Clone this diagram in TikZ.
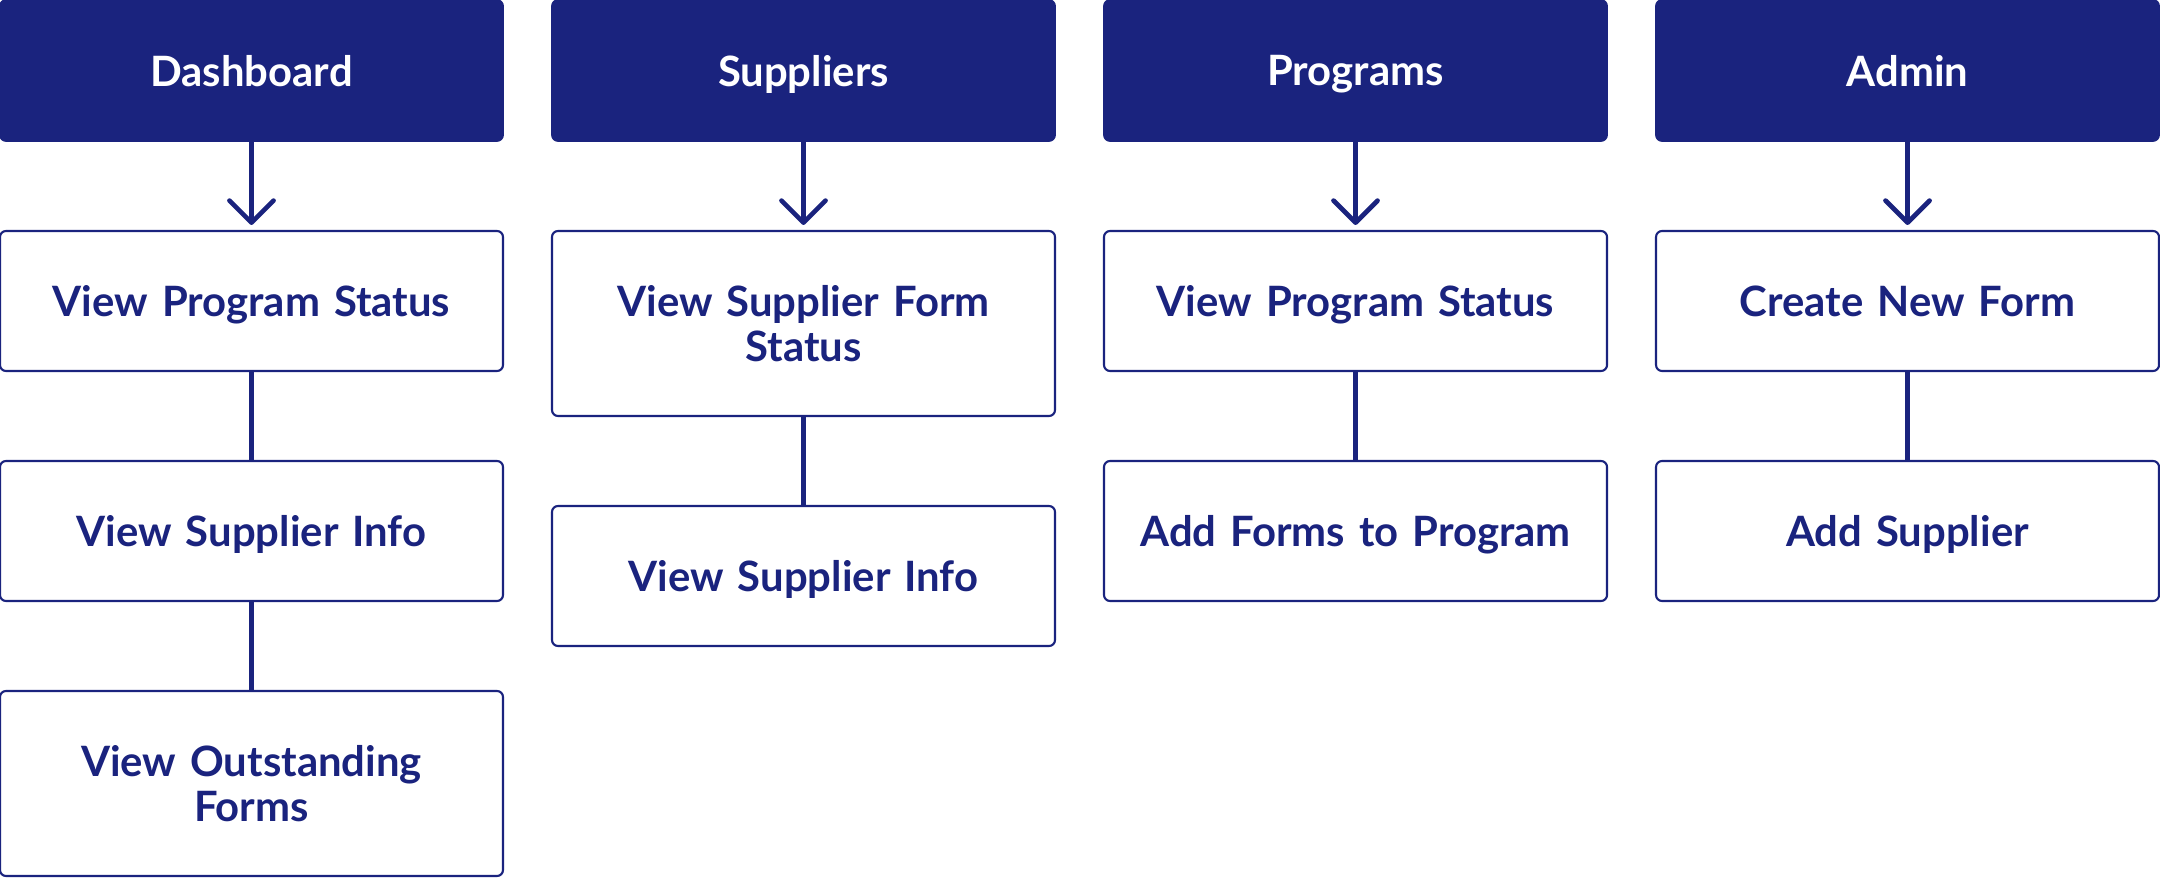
\documentclass[tikz,border=0pt]{standalone}
\usepackage{fontspec}
\setmainfont{Lato}
\usetikzlibrary{positioning,arrows.meta}
\definecolor{navy}{HTML}{1A237E}

\begin{document}
\begin{tikzpicture}[x=1cm,y=1cm,font=\bfseries\fontsize{11.9}{13}\selectfont,node distance=0.9cm,
  head/.style={draw=navy,fill=navy,text=white,rounded corners=0.6mm,minimum width=5.03cm,minimum height=1.41cm,line width=0.5pt,outer sep=0pt,text depth=0pt},
  item/.style={draw=navy,fill=white,text=navy,rounded corners=0.6mm,minimum width=5.03cm,minimum height=1.40cm,line width=0.6pt,text width=4.6cm,align=center,outer sep=0pt,text depth=0pt},
  tall/.style={item,minimum height=1.85cm,text depth={}},
  link/.style={draw=navy,line width=1.35pt},
  down/.style={link,-{Straight Barb[length=2.2mm,width=4.4mm,line cap=round,line join=round]},shorten >=0.6mm}]
  \useasboundingbox (0,0) rectangle (21.6,-8.78);
  % column headers
  \node[head] (dash) at (2.515,-0.705) {Dashboard};
  \node[head,right=0.49cm of dash] (supp) {Suppliers};
  \node[head,right=0.49cm of supp] (prog) {Programs};
  \node[head,right=0.49cm of prog] (admin) {Admin};
  % dashboard column
  \node[item,below=of dash] (dstatus) {View Program Status};
  \node[item,below=of dstatus] (dinfo) {View Supplier Info};
  \node[tall,below=of dinfo] (dforms) {View Outstanding\\Forms};
  % suppliers column
  \node[tall,below=of supp] (sstatus) {View Supplier Form\\Status};
  \node[item,below=of sstatus] (sinfo) {View Supplier Info};
  % programs column
  \node[item,below=of prog] (pstatus) {View Program Status};
  \node[item,below=of pstatus] (padd) {Add Forms to Program};
  % admin column
  \node[item,below=of admin] (anew) {Create New Form};
  \node[item,below=of anew] (aadd) {Add Supplier};
  % connectors
  \draw[down] (dash) -- (dstatus); \draw[down] (supp) -- (sstatus);
  \draw[down] (prog) -- (pstatus); \draw[down] (admin) -- (anew);
  \draw[link] (dstatus) -- (dinfo); \draw[link] (dinfo) -- (dforms);
  \draw[link] (sstatus) -- (sinfo); \draw[link] (pstatus) -- (padd);
  \draw[link] (anew) -- (aadd);
\end{tikzpicture}
\end{document}
